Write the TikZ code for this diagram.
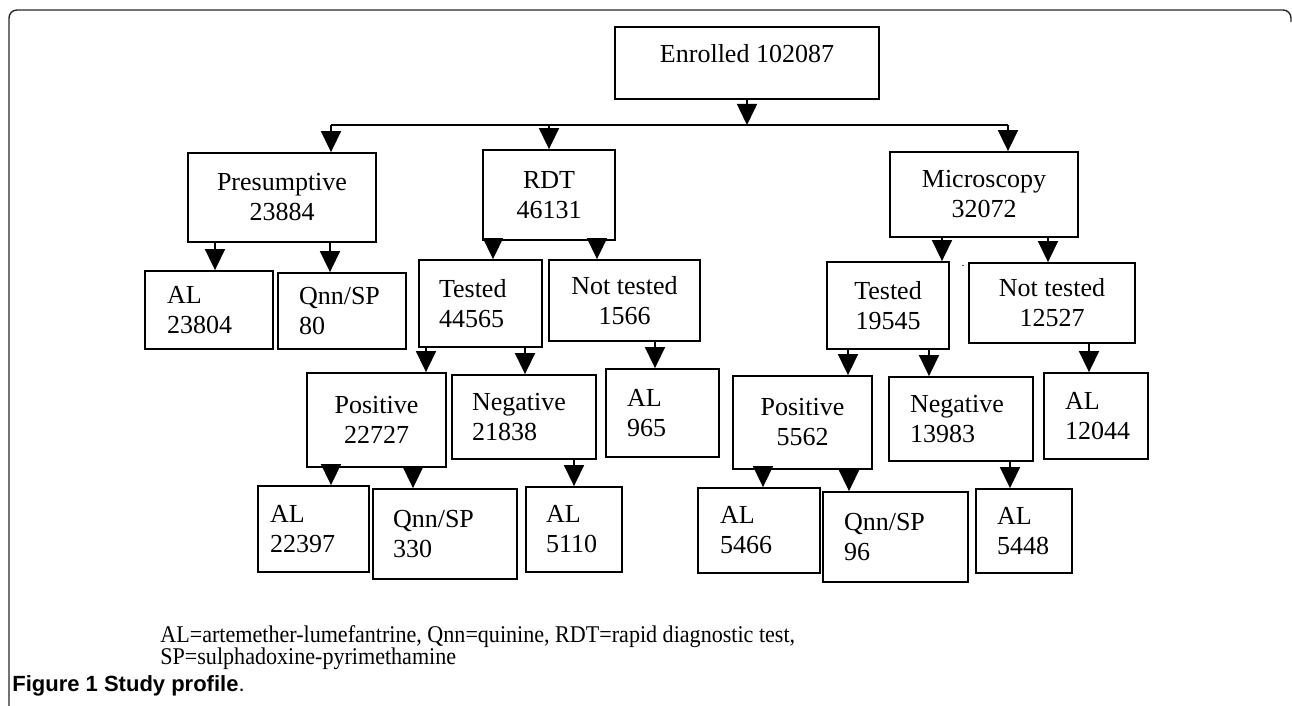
\documentclass[tikz,border=0pt]{standalone}
\usepackage{fontspec}
\setmainfont{Liberation Serif}
\newfontfamily\legendfont{Liberation Serif}[FakeStretch=0.92]
\newfontfamily\captionfont{Liberation Sans}
\usetikzlibrary{arrows.meta}

\tikzset{
  box/.style={draw, line width=0.9pt, inner sep=0pt, align=center, font=\fontsize{13}{15}\selectfont},
  lbox/.style={box, align=left},
  arr/.style={line width=0.8pt, -{Triangle[width=10pt,length=10.5pt]}},
}

\begin{document}
\begin{tikzpicture}[x=0.5pt, y=-0.5pt]
            \useasboundingbox (0,0) rectangle (1292,706);
            % frame
            \draw[line width=0.7pt, black!85] (9,706) -- (9,18) arc[start angle=180, end angle=270, radius=8] -- (1283,10) arc[start angle=270, end angle=360, radius=8] -- (1291,22);

            \node[box, minimum width=132pt, minimum height=36pt, text height=9pt, text depth=9pt] (enr) at (747,63) {Enrolled 102087};
            \coordinate (barL) at (331,125);
            \coordinate (barR) at (1008,125);

            \node[box, minimum width=94pt, minimum height=44.5pt] (pre) at (282,197.5) {Presumptive\\23884};
            \node[box, minimum width=66pt, minimum height=45pt] (rdt) at (549,195) {RDT\\46131};
            \node[box, minimum width=94pt, minimum height=42.5pt] (mic) at (984,194.5) {Microscopy\\32072};

            \node[lbox, text width=42pt, inner xsep=11pt, minimum height=39pt] (al1) at (209,310) {AL\\23804};
            \node[lbox, text width=43pt, inner xsep=10.5pt, minimum height=38pt] (qnn1) at (342,311) {Qnn/SP\\80};
            \node[lbox, text width=41.5pt, inner xsep=10pt, minimum height=43.5pt] (tst1) at (480.5,303.5) {Tested\\44565};
            \node[box, minimum width=75.5pt, minimum height=40.5pt] (not1) at (624.5,300.5) {Not tested\\1566};

            \node[box, minimum width=69.5pt, minimum height=47pt] (pos1) at (376.5,420) {Positive\\22727};
            \node[lbox, text width=52pt, inner xsep=10pt, minimum height=42pt] (neg1) at (524,417) {Negative\\21838};
            \node[lbox, text width=35.5pt, inner xsep=10.5pt, minimum height=44pt] (al2) at (662.5,413) {AL\\965};

            \node[lbox, text width=43.5pt, inner xsep=6pt, minimum height=43pt] (al3) at (313.5,529) {AL\\22397};
            \node[lbox, text width=52pt, inner xsep=10pt, minimum height=45pt] (qnn2) at (445,534) {Qnn/SP\\330};
            \node[lbox, text width=28pt, inner xsep=10pt, minimum height=42.5pt] (al4) at (574,529.5) {AL\\5110};

            \node[box, minimum width=61pt, minimum height=43.5pt] (tst2) at (888,305.5) {Tested\\19545};
            \node[box, minimum width=83pt, minimum height=40pt] (not2) at (1052,303) {Not tested\\12527};
            \node[font=\fontsize{6}{6}\selectfont, inner sep=0pt] (dot) at (963,266) {.};

            \node[box, minimum width=69.5pt, minimum height=46.5pt] (pos2) at (802.5,422.5) {Positive\\5562};
            \node[lbox, text width=51pt, inner xsep=10.5pt, minimum height=42pt] (neg2) at (961,419) {Negative\\13983};
            \node[lbox, text width=31pt, inner xsep=10.5pt, minimum height=43pt] (al5) at (1096,416) {AL\\12044};

            \node[lbox, text width=39pt, inner xsep=11pt, minimum height=42.5pt] (al6) at (759,530.5) {AL\\5466};
            \node[lbox, text width=51.5pt, inner xsep=10.5pt, minimum height=45pt] (qnn3) at (895.5,537) {Qnn/SP\\96};
            \node[lbox, text width=27pt, inner xsep=10.5pt, minimum height=42pt] (al7) at (1024,531) {AL\\5448};

            \node[anchor=north west, inner sep=0pt, align=left, font=\legendfont\fontsize{12}{11}\selectfont] (legend) at (160,625) {AL=artemether-lumefantrine, Qnn=quinine, RDT=rapid diagnostic test,\\SP=sulphadoxine-pyrimethamine};
            \node[anchor=base west, inner sep=0pt, font=\captionfont\fontsize{11}{13}\selectfont] (caption) at (12,691) {\textbf{Figure 1 Study profile}.};

            % enrolled to the three arms
            \draw[arr] (enr.south) -- (enr.south |- barL);
            \draw[line width=0.8pt] (barL) -- (barR);
            \draw[arr] (barL) -- (barL |- pre.north); \draw[arr] (rdt.north |- barL) -- (rdt.north); \draw[arr] (barR) -- (barR |- mic.north);

            % presumptive and rdt
            \draw[arr] (215,0 |- pre.south) -- (215,0 |- al1.north); \draw[arr] (330,0 |- pre.south) -- (330,0 |- qnn1.north);
            \draw[arr] (493,0 |- rdt.south) -- (493,0 |- tst1.north); \draw[arr] (597,0 |- rdt.south) -- (597,0 |- not1.north);
            \draw[arr] (426,0 |- tst1.south) -- (426,0 |- pos1.north); \draw[arr] (525,0 |- tst1.south) -- (525,0 |- neg1.north);
            \draw[arr] (655,0 |- not1.south) -- (655,0 |- al2.north);
            \draw[arr] (331,0 |- pos1.south) -- (331,0 |- al3.north); \draw[arr] (413,0 |- pos1.south) -- (413,0 |- qnn2.north);
            \draw[arr] (574,0 |- neg1.south) -- (574,0 |- al4.north);

            % microscopy
            \draw[arr] (942,0 |- mic.south) -- (942,0 |- tst2.north); \draw[arr] (1048,0 |- mic.south) -- (1048,0 |- not2.north);
            \draw[arr] (848,0 |- tst2.south) -- (848,0 |- pos2.north); \draw[arr] (929,0 |- tst2.south) -- (929,0 |- neg2.north);
            \draw[arr] (1089,0 |- not2.south) -- (1089,0 |- al5.north);
            \draw[arr] (763,0 |- pos2.south) -- (763,0 |- al6.north); \draw[arr] (849,0 |- pos2.south) -- (849,0 |- qnn3.north);
            \draw[arr] (1010,0 |- neg2.south) -- (1010,0 |- al7.north);
        \end{tikzpicture}
\end{document}
